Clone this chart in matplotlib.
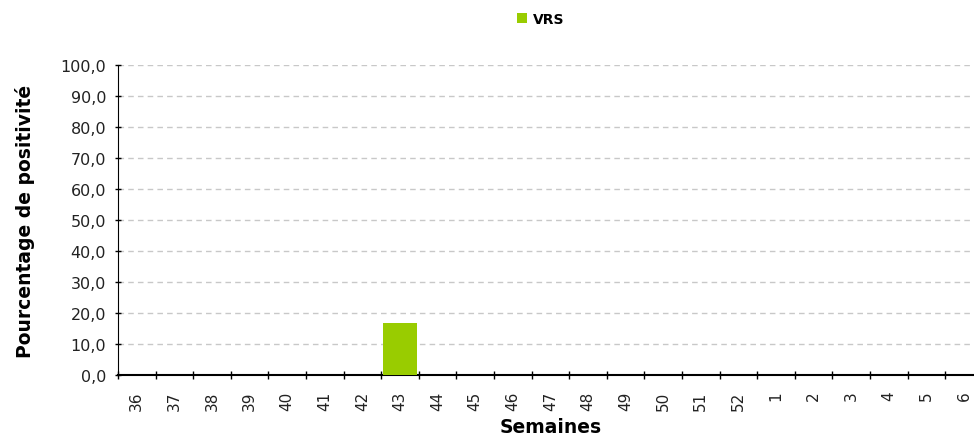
import matplotlib
matplotlib.use("Agg")
import matplotlib.pyplot as plt
import numpy as np

# ---------- Data ----------
weeks = ["36", "37", "38", "39", "40", "41", "42", "43", "44", "45", "46", "47",
         "48", "49", "50", "51", "52", "1", "2", "3", "4", "5", "6"]
vrs = [0, 0, 0, 0, 0, 0, 0, 16.7, 0, 0, 0, 0,
       0, 0, 0, 0, 0, 0, 0, 0, 0, 0, 0]
yticks = np.arange(0, 101, 10)

# ---------- Plot ----------
fig = plt.figure(figsize=(9.74, 4.39), dpi=100)
ax = fig.add_axes([0.1211, 0.1435, 0.888, 0.7062])

x = np.arange(len(weeks))
ax.bar(x, vrs, width=0.9, color="#99cc00", linewidth=0, label="VRS", zorder=3)

ax.set_xlim(-0.5, len(weeks) - 0.5)
ax.set_ylim(0, 100)
ax.set_yticks(yticks)
ax.set_yticklabels([f"{v:.1f}".replace(".", ",") for v in yticks], fontsize=11.5, color="#222222")

# category labels at centers, tick marks at boundaries
ax.set_xticks(x)
ax.set_xticklabels(weeks, rotation=90, fontsize=11, color="#222222")
ax.tick_params(axis="x", length=0, pad=11)
ax.set_xticks(np.arange(-0.5, len(weeks), 1), minor=True)
ax.tick_params(axis="x", which="minor", length=6, width=1, color="black", direction="inout")
ax.tick_params(axis="y", length=5, width=1, color="black", direction="inout", pad=6)

ax.grid(axis="y", linestyle=(0, (4, 3)), color="#c8c8c8", linewidth=1, zorder=0)
for s in ["top", "right"]:
    ax.spines[s].set_visible(False)
ax.spines["left"].set_color("black")
ax.spines["bottom"].set_color("black")
ax.spines["bottom"].set_linewidth(1.5)

ax.set_ylabel("Pourcentage de positivité", fontsize=13.5, fontweight="bold", labelpad=18)
ax.set_xlabel("Semaines", fontsize=13.5, fontweight="bold", labelpad=5)

fig.legend(loc="upper center", bbox_to_anchor=(0.555, 1.0), frameon=False,
           handlelength=0.7, handleheight=0.7, handletextpad=0.4,
           prop={"weight": "bold", "size": 10})

fig.savefig("out.png", dpi=100)
